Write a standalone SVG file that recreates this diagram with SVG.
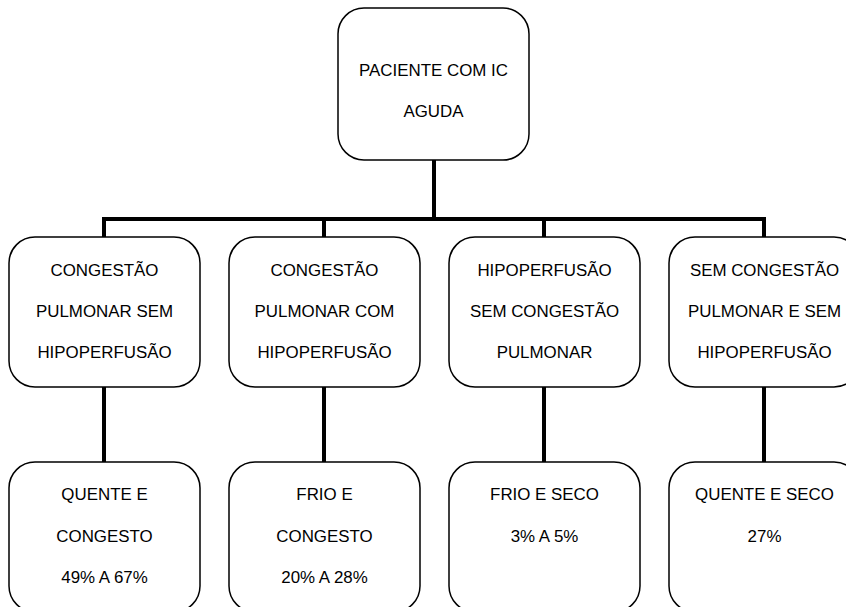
<svg xmlns="http://www.w3.org/2000/svg" width="846" height="607" viewBox="0 0 846 607">
<style>
.box{fill:#fff;stroke:#000;stroke-width:1.5}
.t{font-family:"Liberation Sans",Arial,sans-serif;font-size:16.9px;fill:#000;text-anchor:middle}
.c{stroke:#000;stroke-width:4;fill:none}
</style>
<rect width="846" height="607" fill="#fff"/>
<g id="connectors">
<path class="c" d="M434 160V219M102 219H766M104 219V237M324 219V237M544 219V237M764 219V237"/>
<path class="c" d="M104 387V462M324 387V462M544 387V462M764 387V462"/>
</g>
<g id="root">
<rect class="box" x="338" y="8" width="191" height="152" rx="26"/>
<text class="t" x="433.5" y="76">PACIENTE COM IC</text>
<text class="t" x="433.5" y="117">AGUDA</text>
</g>
<g id="n1">
<rect class="box" x="9" y="237" width="191" height="150" rx="26"/>
<text class="t" x="104.5" y="276">CONGESTÃO</text>
<text class="t" x="104.5" y="317">PULMONAR SEM</text>
<text class="t" x="104.5" y="358">HIPOPERFUSÃO</text>
</g>
<g id="n2">
<rect class="box" x="229" y="237" width="191" height="150" rx="26"/>
<text class="t" x="324.5" y="276">CONGESTÃO</text>
<text class="t" x="324.5" y="317">PULMONAR COM</text>
<text class="t" x="324.5" y="358">HIPOPERFUSÃO</text>
</g>
<g id="n3">
<rect class="box" x="449" y="237" width="191" height="150" rx="26"/>
<text class="t" x="544.5" y="276">HIPOPERFUSÃO</text>
<text class="t" x="544.5" y="317">SEM CONGESTÃO</text>
<text class="t" x="544.5" y="358">PULMONAR</text>
</g>
<g id="n4">
<rect class="box" x="669" y="237" width="191" height="150" rx="26"/>
<text class="t" x="764.5" y="276">SEM CONGESTÃO</text>
<text class="t" x="764.5" y="317">PULMONAR E SEM</text>
<text class="t" x="764.5" y="358">HIPOPERFUSÃO</text>
</g>
<g id="r1">
<rect class="box" x="9" y="462" width="191" height="150" rx="26"/>
<text class="t" x="104.5" y="500">QUENTE E</text>
<text class="t" x="104.5" y="542">CONGESTO</text>
<text class="t" x="104.5" y="583">49% A 67%</text>
</g>
<g id="r2">
<rect class="box" x="229" y="462" width="191" height="150" rx="26"/>
<text class="t" x="324.5" y="500">FRIO E</text>
<text class="t" x="324.5" y="542">CONGESTO</text>
<text class="t" x="324.5" y="583">20% A 28%</text>
</g>
<g id="r3">
<rect class="box" x="449" y="462" width="191" height="150" rx="26"/>
<text class="t" x="544.5" y="500">FRIO E SECO</text>
<text class="t" x="544.5" y="542">3% A 5%</text>
</g>
<g id="r4">
<rect class="box" x="669" y="462" width="191" height="150" rx="26"/>
<text class="t" x="764.5" y="500">QUENTE E SECO</text>
<text class="t" x="764.5" y="542">27%</text>
</g>
</svg>
